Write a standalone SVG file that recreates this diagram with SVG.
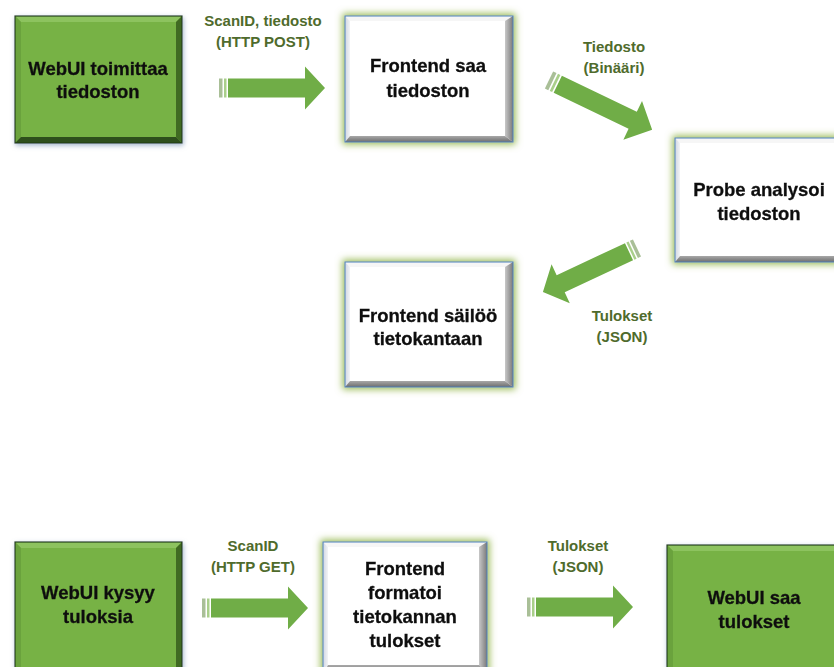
<svg xmlns="http://www.w3.org/2000/svg" xmlns:xlink="http://www.w3.org/1999/xlink" width="834" height="667" viewBox="0 0 834 667">
<style>
.nt{font-family:"Liberation Sans",Arial,sans-serif;font-weight:bold;font-size:18.5px;fill:#111;stroke:#111;stroke-width:0.3;text-anchor:middle}
.lt{font-family:"Liberation Sans",Arial,sans-serif;font-weight:bold;font-size:15px;fill:#4f6b2c;text-anchor:middle}
.wface{fill:#fff}
.wtop{fill:#f6f6f6}
.wleft{fill:url(#wl)}
.wright{fill:url(#wr)}
.wbot{fill:url(#wb)}
.gface{fill:#77b244}
.gtop{fill:#8dc35e}
.gleft{fill:#6ba23d}
.gright{fill:#3f6a22}
.gbot{fill:#2f4f1a}
.wedge{fill:none;stroke:#4f81bd;stroke-width:1}
.gedge{fill:none;stroke:#25401a;stroke-width:1.2}
</style>
<defs>
<linearGradient id="wl" x1="0" x2="1" y1="0" y2="0"><stop offset="0" stop-color="#cfd6e2"/><stop offset="1" stop-color="#f3f4f6"/></linearGradient>
<linearGradient id="wr" x1="0" x2="1" y1="0" y2="0"><stop offset="0" stop-color="#c8c8c8"/><stop offset="1" stop-color="#7a7a7a"/></linearGradient>
<linearGradient id="wb" x1="0" x2="0" y1="0" y2="1"><stop offset="0" stop-color="#a8a8a8"/><stop offset="1" stop-color="#6e6e6e"/></linearGradient>
<filter id="gglow" x="-20%" y="-20%" width="140%" height="140%">
<feMorphology in="SourceAlpha" operator="dilate" radius="1.5" result="d"/>
<feGaussianBlur in="d" stdDeviation="3.5" result="b"/>
<feFlood flood-color="#9bbb59" flood-opacity="1"/>
<feComposite operator="in" in2="b" result="g"/>
<feMerge><feMergeNode in="g"/><feMergeNode in="SourceGraphic"/></feMerge>
</filter>
<filter id="bglow" x="-20%" y="-20%" width="140%" height="140%">
<feGaussianBlur in="SourceAlpha" stdDeviation="2.5" result="b"/>
<feOffset in="b" dx="1" dy="2" result="o"/>
<feFlood flood-color="#8ea4bf" flood-opacity="0.8"/>
<feComposite operator="in" in2="o" result="g"/>
<feMerge><feMergeNode in="g"/><feMergeNode in="SourceGraphic"/></feMerge>
</filter>
<g id="arr">
<rect x="0" y="-9.5" width="3.5" height="19" fill="#a9bf97"/>
<rect x="5" y="-9.5" width="2.5" height="19" fill="#a9cf8a"/>
<polygon points="9,-9.5 86,-9.5 86,-21.5 106,0 86,21.5 86,9.5 9,9.5" fill="#70ad47"/>
</g>
</defs>
<rect width="834" height="667" fill="#fff"/>

<g id="connectors">
<use xlink:href="#arr" href="#arr" transform="translate(219,88)"/>
<use xlink:href="#arr" href="#arr" transform="translate(549,80) rotate(25.7) scale(1.08,1)"/>
<use xlink:href="#arr" href="#arr" transform="translate(637,248) rotate(154.9) scale(0.98,1)"/>
<use xlink:href="#arr" href="#arr" transform="translate(202,608)"/>
<use xlink:href="#arr" href="#arr" transform="translate(527,607)"/>
<text class="lt" x="263" y="26">ScanID, tiedosto</text>
<text class="lt" x="263" y="47">(HTTP POST)</text>
<text class="lt" x="614" y="52">Tiedosto</text>
<text class="lt" x="614" y="73">(Binääri)</text>
<text class="lt" x="622" y="321">Tulokset</text>
<text class="lt" x="622" y="342">(JSON)</text>
<text class="lt" x="253" y="551">ScanID</text>
<text class="lt" x="253" y="572">(HTTP GET)</text>
<text class="lt" x="578" y="551">Tulokset</text>
<text class="lt" x="578" y="572">(JSON)</text>
</g>

<g id="n1" filter="url(#bglow)">
<rect class="gface" x="15" y="16" width="167" height="127"/>
<polygon class="gtop" points="15,16 182,16 176,22 21,22"/>
<polygon class="gleft" points="15,16 21,22 21,137 15,143"/>
<polygon class="gright" points="182,16 182,143 176,137 176,22"/>
<polygon class="gbot" points="15,143 182,143 176,137 21,137"/>
<rect class="gedge" x="15" y="16" width="167" height="127"/>
<text class="nt" x="98" y="75">WebUI toimittaa</text>
<text class="nt" x="98" y="98">tiedoston</text>
</g>

<g id="n2" filter="url(#gglow)">
<rect class="wface" x="345" y="16" width="168" height="126"/>
<polygon class="wtop" points="345,16 513,16 507,21 350,21"/>
<polygon class="wleft" points="345,16 350,21 350,136 345,142"/>
<polygon class="wright" points="513,16 513,142 505,136 505,21"/>
<polygon class="wbot" points="345,142 513,142 505,136 350,136"/>
<rect class="wedge" x="345" y="16" width="168" height="126"/>
<text class="nt" x="428" y="72">Frontend saa</text>
<text class="nt" x="428" y="97">tiedoston</text>
</g>

<g id="n3" filter="url(#gglow)">
<rect class="wface" x="675" y="138" width="168" height="124"/>
<polygon class="wtop" points="675,138 843,138 835,143 680,143"/>
<polygon class="wleft" points="675,138 680,143 680,256 675,262"/>
<polygon class="wbot" points="675,262 843,262 835,256 680,256"/>
<rect class="wedge" x="675" y="138" width="168" height="124"/>
<text class="nt" x="759" y="196">Probe analysoi</text>
<text class="nt" x="759" y="220">tiedoston</text>
</g>

<g id="n4" filter="url(#gglow)">
<rect class="wface" x="345" y="262" width="168" height="125"/>
<polygon class="wtop" points="345,262 513,262 507,267 350,267"/>
<polygon class="wleft" points="345,262 350,267 350,381 345,387"/>
<polygon class="wright" points="513,262 513,387 505,381 505,267"/>
<polygon class="wbot" points="345,387 513,387 505,381 350,381"/>
<rect class="wedge" x="345" y="262" width="168" height="125"/>
<text class="nt" x="428" y="322">Frontend säilöö</text>
<text class="nt" x="428" y="345">tietokantaan</text>
</g>

<g id="n5" filter="url(#bglow)">
<rect class="gface" x="15" y="542" width="167" height="133"/>
<polygon class="gtop" points="15,542 182,542 176,548 21,548"/>
<polygon class="gleft" points="15,542 21,548 21,669 15,675"/>
<polygon class="gright" points="182,542 182,675 176,669 176,548"/>
<rect class="gedge" x="15" y="542" width="167" height="133"/>
<text class="nt" x="98" y="599">WebUI kysyy</text>
<text class="nt" x="98" y="623">tuloksia</text>
</g>

<g id="n6" filter="url(#gglow)">
<rect class="wface" x="323" y="542" width="164" height="133"/>
<polygon class="wtop" points="323,542 487,542 481,547 328,547"/>
<polygon class="wleft" points="323,542 328,547 328,669 323,675"/>
<polygon class="wright" points="487,542 487,675 479,669 479,547"/>
<polygon class="wbot" points="323,675 487,675 479,665 328,665"/>
<rect class="wedge" x="323" y="542" width="164" height="133"/>
<text class="nt" x="405" y="575">Frontend</text>
<text class="nt" x="405" y="599">formatoi</text>
<text class="nt" x="405" y="623">tietokannan</text>
<text class="nt" x="405" y="647">tulokset</text>
</g>

<g id="n7" filter="url(#bglow)">
<rect class="gface" x="667" y="545" width="175" height="130"/>
<polygon class="gtop" points="667,545 842,545 836,551 673,551"/>
<polygon class="gleft" points="667,545 673,551 673,669 667,675"/>
<rect class="gedge" x="667" y="545" width="175" height="130"/>
<text class="nt" x="754" y="604">WebUI saa</text>
<text class="nt" x="754" y="628">tulokset</text>
</g>
</svg>
